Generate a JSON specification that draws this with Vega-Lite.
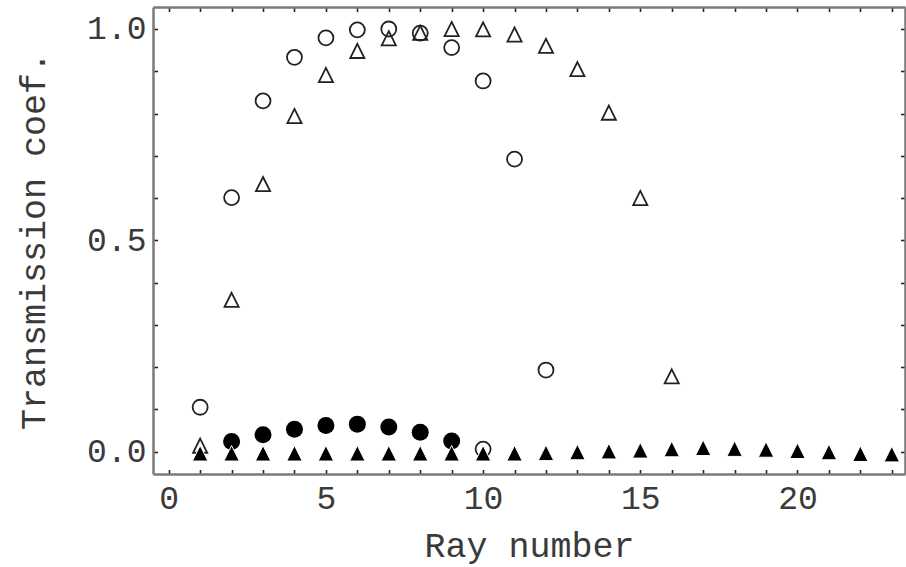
{
  "$schema": "https://vega.github.io/schema/vega-lite/v6.json",
  "width": 752,
  "height": 467,
  "autosize": "none",
  "padding": {"left": 153, "top": 7, "right": 1, "bottom": 93},
  "background": "white",
  "config": {
    "view": {"stroke": null},
    "axis": {
      "domainColor": "#7a7a7a",
      "domainWidth": 2.5,
      "tickColor": "#222222",
      "tickWidth": 1.6,
      "tickSize": -4.5,
      "ticks": true,
      "grid": false,
      "labelFont": "Liberation Mono",
      "labelFontSize": 33,
      "labelColor": "#3a3a3a",
      "titleFont": "Liberation Mono",
      "titleFontSize": 35,
      "titleFontWeight": "normal",
      "titleColor": "#3a3a3a",
      "labelOverlap": false,
      "labelBound": false,
      "labelFlush": false
    }
  },
  "datasets": {
    "openCircle": [
      {"ray": 1, "t": 0.105}, {"ray": 2, "t": 0.601}, {"ray": 3, "t": 0.830},
      {"ray": 4, "t": 0.933}, {"ray": 5, "t": 0.979}, {"ray": 6, "t": 0.998},
      {"ray": 7, "t": 1.0}, {"ray": 8, "t": 0.990}, {"ray": 9, "t": 0.956},
      {"ray": 10, "t": 0.877}, {"ray": 11, "t": 0.692}, {"ray": 12, "t": 0.193},
      {"ray": 10, "t": 0.006}
    ],
    "openTriangle": [
      {"ray": 1, "t": 0.014}, {"ray": 2, "t": 0.359}, {"ray": 3, "t": 0.633},
      {"ray": 4, "t": 0.794}, {"ray": 5, "t": 0.891}, {"ray": 6, "t": 0.948},
      {"ray": 7, "t": 0.978}, {"ray": 8, "t": 0.991}, {"ray": 9, "t": 1.0},
      {"ray": 10, "t": 0.999}, {"ray": 11, "t": 0.987}, {"ray": 12, "t": 0.960},
      {"ray": 13, "t": 0.905}, {"ray": 14, "t": 0.802}, {"ray": 15, "t": 0.600},
      {"ray": 16, "t": 0.178}
    ],
    "filledCircle": [
      {"ray": 2, "t": 0.024}, {"ray": 3, "t": 0.040}, {"ray": 4, "t": 0.053},
      {"ray": 5, "t": 0.062}, {"ray": 6, "t": 0.065}, {"ray": 7, "t": 0.058},
      {"ray": 8, "t": 0.046}, {"ray": 9, "t": 0.025}
    ],
    "filledTriangle": [
      {"ray": 1, "t": -0.004}, {"ray": 2, "t": -0.004}, {"ray": 3, "t": -0.004},
      {"ray": 4, "t": -0.004}, {"ray": 5, "t": -0.004}, {"ray": 6, "t": -0.004},
      {"ray": 7, "t": -0.004}, {"ray": 8, "t": -0.004}, {"ray": 9, "t": -0.004},
      {"ray": 10, "t": -0.004}, {"ray": 11, "t": -0.004}, {"ray": 12, "t": -0.003},
      {"ray": 13, "t": -0.001}, {"ray": 14, "t": 0.001}, {"ray": 15, "t": 0.003},
      {"ray": 16, "t": 0.006}, {"ray": 17, "t": 0.009}, {"ray": 18, "t": 0.007},
      {"ray": 19, "t": 0.005}, {"ray": 20, "t": 0.002}, {"ray": 21, "t": -0.001},
      {"ray": 22, "t": -0.005}, {"ray": 23, "t": -0.006}
    ]
  },
  "layer": [
    {
      "data": {"name": "openCircle"},
      "mark": {"type": "point", "shape": "circle", "filled": false, "stroke": "#222222", "strokeWidth": 1.8, "size": 225, "opacity": 1},
      "encoding": {
        "x": {
          "field": "ray", "type": "quantitative",
          "scale": {"domain": [-0.5, 23.42], "nice": false, "zero": false},
          "axis": {
            "orient": "bottom",
            "values": [0,1,2,3,4,5,6,7,8,9,10,11,12,13,14,15,16,17,18,19,20,21,22,23],
            "format": "d",
            "labelExpr": "datum.value % 5 === 0 ? datum.label : ''",
            "labelPadding": 12.5,
            "title": "Ray number",
            "titleBaseline": "alphabetic",
            "titleY": 82,
            "encode": {"ticks": {"update": {"y2": {"signal": "datum.value % 5 === 0 ? -8 : -4.5"}}}}
          }
        },
        "y": {
          "field": "t", "type": "quantitative",
          "scale": {"domain": [-0.053, 1.052], "nice": false, "zero": false},
          "axis": {
            "orient": "left",
            "values": [0, 0.1, 0.2, 0.3, 0.4, 0.5, 0.6, 0.7, 0.8, 0.9, 1],
            "format": ".1f",
            "labelExpr": "(datum.value === 0 || datum.value === 0.5 || datum.value === 1) ? datum.label : ''",
            "labelPadding": 11.5,
            "title": "Transmission coef.",
            "titleX": -109,
            "titleY": 233.5,
            "titleAngle": -90,
            "titleAlign": "center",
            "titleBaseline": "alphabetic",
            "encode": {"ticks": {"update": {"x2": {"signal": "(datum.value === 0 || datum.value === 0.5 || datum.value === 1) ? 8 : 4.5"}}}}
          }
        }
      }
    },
    {
      "data": {"name": "openTriangle"},
      "mark": {"type": "point", "shape": "M0,-1L1,1L-1,1Z", "filled": false, "stroke": "#222222", "strokeWidth": 1.8, "size": 200, "opacity": 1},
      "encoding": {
        "x": {
          "field": "ray", "type": "quantitative",
          "axis": {
            "orient": "top",
            "values": [0,1,2,3,4,5,6,7,8,9,10,11,12,13,14,15,16,17,18,19,20,21,22,23],
            "labels": false,
            "title": null,
            "encode": {"ticks": {"update": {"y2": {"signal": "datum.value % 5 === 0 ? 8 : 4.5"}}}}
          }
        },
        "y": {
          "field": "t", "type": "quantitative",
          "axis": {
            "orient": "right",
            "values": [0, 0.1, 0.2, 0.3, 0.4, 0.5, 0.6, 0.7, 0.8, 0.9, 1],
            "labels": false,
            "title": null,
            "encode": {"ticks": {"update": {"x2": {"signal": "(datum.value === 0 || datum.value === 0.5 || datum.value === 1) ? -8 : -4.5"}}}}
          }
        }
      }
    },
    {
      "data": {"name": "filledCircle"},
      "mark": {"type": "point", "shape": "circle", "filled": true, "fill": "#000000", "size": 289, "opacity": 1},
      "encoding": {
        "x": {"field": "ray", "type": "quantitative", "axis": null},
        "y": {"field": "t", "type": "quantitative", "axis": null}
      }
    },
    {
      "data": {"name": "filledTriangle"},
      "mark": {"type": "point", "shape": "M0,-1L1,1L-1,1Z", "filled": true, "fill": "#000000", "stroke": "#ffffff", "strokeWidth": 1, "size": 240, "opacity": 1},
      "encoding": {
        "x": {"field": "ray", "type": "quantitative", "axis": null},
        "y": {"field": "t", "type": "quantitative", "axis": null}
      }
    }
  ],
  "resolve": {"axis": {"x": "independent", "y": "independent"}}
}
